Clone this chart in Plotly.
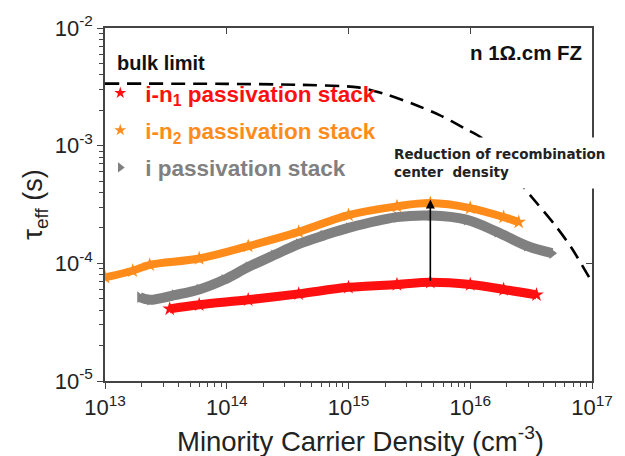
import numpy as np
import plotly.graph_objects as go

# ---- data ----
bulk_x = [1.0e13, 1.0e14, 3.9e14, 1.2e15, 2.0e15, 3.4e15, 5.6e15, 8.9e15, 1.26e16, 3.1e16, 5.1e16, 6.8e16, 1.0e17]
bulk_y = [3.37e-3, 3.35e-3, 3.29e-3, 3.13e-3, 2.75e-3, 2.26e-3, 1.82e-3, 1.41e-3, 1.15e-3, 3.8e-4, 2.04e-4, 1.35e-4, 6.9e-5]

n2_x = [1.0e13, 1.69e13, 2.33e13, 5.94e13, 1.5e14, 3.9e14, 1.0e15, 2.5e15, 4.7e15, 1.0e16, 1.88e16, 2.5e16]
n2_y = [7.6e-5, 8.65e-5, 9.7e-5, 1.1e-4, 1.4e-4, 1.85e-4, 2.57e-4, 3.05e-4, 3.25e-4, 2.95e-4, 2.47e-4, 2.24e-4]

i_x = [1.93e13, 2.33e13, 3.72e13, 5.94e13, 9.5e13, 1.5e14, 2.43e14, 3.9e14, 6.2e14, 1.0e15, 2.5e15, 4.7e15, 9.3e15, 1.66e16, 2.9e16, 4.7e16]
i_y = [5.16e-5, 4.9e-5, 5.37e-5, 6.0e-5, 7.25e-5, 9.3e-5, 1.17e-4, 1.46e-4, 1.72e-4, 2.0e-4, 2.47e-4, 2.55e-4, 2.35e-4, 1.85e-4, 1.41e-4, 1.22e-4]

n1_x = [3.4e13, 5.94e13, 1.5e14, 3.9e14, 1.0e15, 2.5e15, 4.7e15, 1.0e16, 1.88e16, 3.5e16]
n1_y = [4.1e-5, 4.44e-5, 4.9e-5, 5.5e-5, 6.25e-5, 6.6e-5, 6.9e-5, 6.6e-5, 6.0e-5, 5.4e-5]

arrow_x = 4.7e15
arrow_y_from = 6.9e-5
arrow_y_to = 3.48e-4

x_tickvals = [1e13, 1e14, 1e15, 1e16, 1e17]
x_ticktext = ["10<sup>13</sup>", "10<sup>14</sup>", "10<sup>15</sup>", "10<sup>16</sup>", "10<sup>17</sup>"]
y_tickvals = [1e-5, 1e-4, 1e-3, 1e-2]
y_ticktext = ["10<sup>-5</sup>", "10<sup>-4</sup>", "10<sup>-3</sup>", "10<sup>-2</sup>"]

RED = "#ff1010"
ORANGE = "#ff8c1a"
GRAY = "#808080"
FONT = "Liberation Sans, Arial, sans-serif"

minor_x = [m * 10 ** k for k in range(13, 17) for m in range(2, 10)]
minor_y = [m * 10 ** k for k in range(-5, -2) for m in range(2, 10)]

fig = go.Figure()

fig.add_trace(go.Scatter(x=bulk_x, y=bulk_y, mode="lines",
                         line=dict(color="black", width=2.6, dash="14px,8px", shape="spline", smoothing=0.8),
                         showlegend=False))
fig.add_trace(go.Scatter(x=n2_x, y=n2_y, mode="lines+markers", line=dict(color=ORANGE, width=8, shape="spline"),
                         marker=dict(symbol="star", size=11, color=ORANGE), showlegend=False))
fig.add_trace(go.Scatter(x=i_x, y=i_y, mode="lines+markers", line=dict(color=GRAY, width=10, shape="spline"),
                         marker=dict(symbol="triangle-right", size=10, color=GRAY), showlegend=False))
fig.add_trace(go.Scatter(x=n1_x, y=n1_y, mode="lines+markers", line=dict(color=RED, width=9, shape="spline"),
                         marker=dict(symbol="star", size=11, color=RED), showlegend=False))

# legend entries
for name, col, sym, grp in [
    ("i-n<sub>1</sub> passivation stack", RED, "star", "a"),
    ("i-n<sub>2</sub> passivation stack", ORANGE, "star", "b"),
    ("i passivation stack", GRAY, "triangle-right", "c"),
]:
    fig.add_trace(go.Scatter(x=[None], y=[None], mode="markers",
                             marker=dict(symbol=sym, size=9, color=col),
                             name=f"<span style='color:{col}'><b>{name}</b></span>",
                             legendgroup=grp, showlegend=True))

# invisible trace for mirrored inward ticks
fig.add_trace(go.Scatter(x=[None], y=[None], xaxis="x2", yaxis="y2", showlegend=False))

fig.add_annotation(x=np.log10(arrow_x), y=np.log10(arrow_y_to), ax=np.log10(arrow_x), ay=np.log10(arrow_y_from),
                   xref="x", yref="y", axref="x", ayref="y", showarrow=True, arrowhead=2, arrowsize=1.1,
                   arrowwidth=1.6, arrowcolor="black", text="")

fig.add_annotation(x=0.574, y=0.617, xref="paper", yref="paper", xanchor="left", yanchor="middle",
                   text="<b>Reduction of recombination<br>center  density</b>", showarrow=False, align="left",
                   font=dict(family="DejaVu Sans", size=13.5, color="#222"), bgcolor="white", borderpad=8)
fig.add_annotation(x=0.02, y=0.90, xref="paper", yref="paper", xanchor="left", yanchor="middle",
                   text="<b>bulk limit</b>", showarrow=False, font=dict(family=FONT, size=20, color="#111"))
fig.add_annotation(x=0.983, y=0.93, xref="paper", yref="paper", xanchor="right", yanchor="middle",
                   text="<b>n 1Ω.cm FZ</b>", showarrow=False, font=dict(family=FONT, size=20.5, color="#111"))
# x-axis title
fig.add_annotation(x=0.525, y=-0.165, xref="paper", yref="paper", xanchor="center", yanchor="middle",
                   text="Minority Carrier Density (cm<sup>-3</sup>)", showarrow=False,
                   font=dict(family=FONT, size=27.5, color="#222"))

axis_common = dict(showgrid=False, zeroline=False, linecolor="#444", linewidth=1.5,
                   ticks="outside", ticklen=6, tickwidth=1.3, tickcolor="#444",
                   tickfont=dict(family=FONT, size=22, color="#222"))

fig.update_layout(
    width=625, height=456,
    margin=dict(l=105, r=29, t=19, b=75),
    paper_bgcolor="white", plot_bgcolor="white",
    font=dict(family=FONT),
    xaxis=dict(type="log", range=[13, 17], tickvals=x_tickvals, ticktext=x_ticktext, mirror=True,
               minor=dict(tickvals=minor_x, ticks="outside", ticklen=4, tickcolor="#444"),
               **axis_common),
    yaxis=dict(type="log", range=[-5, -2], tickvals=y_tickvals, ticktext=y_ticktext, mirror=True,
               minor=dict(tickvals=minor_y, ticks="outside", ticklen=4, tickcolor="#444"),
               title=dict(text="τ<sub>eff</sub> (s)", font=dict(family=FONT, size=27, color="#222"), standoff=4),
               **axis_common),
    xaxis2=dict(type="log", range=[13, 17], overlaying="x", side="top", anchor="y2", tickvals=x_tickvals,
                showticklabels=False, ticks="inside", ticklen=6, tickwidth=1.3, tickcolor="#444",
                showgrid=False, zeroline=False, showline=False),
    yaxis2=dict(type="log", range=[-5, -2], overlaying="y", side="right", anchor="x2", tickvals=y_tickvals,
                showticklabels=False, ticks="inside", ticklen=6, tickwidth=1.3, tickcolor="#444",
                showgrid=False, zeroline=False, showline=False),
    legend=dict(x=-0.02, y=0.876, xanchor="left", yanchor="top", bgcolor="rgba(0,0,0,0)", itemwidth=40,
                font=dict(family=FONT, size=22.5), tracegroupgap=5, traceorder="grouped"),
)

fig.write_html("out.html")
